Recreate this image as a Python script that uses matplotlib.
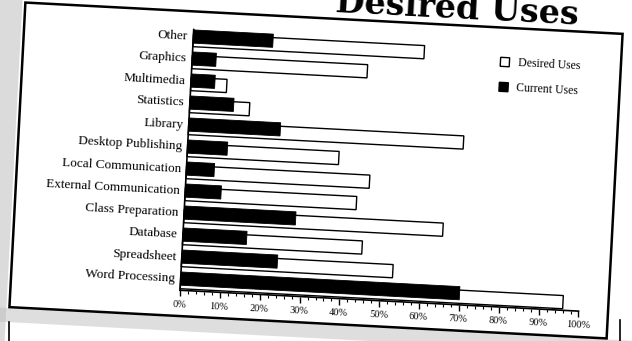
import matplotlib
matplotlib.use("Agg")
import numpy as np
import matplotlib.pyplot as plt
from matplotlib.transforms import Affine2D
from matplotlib.patches import Rectangle
from matplotlib.lines import Line2D
from matplotlib.artist import Artist

# ---- data -------------------------------------------------------------
categories = ["Word Processing", "Spreadsheet", "Database", "Class Preparation",
              "External Communication", "Local Communication", "Desktop Publishing",
              "Library", "Statistics", "Multimedia", "Graphics", "Other"]
current_uses = [70, 24, 16, 28, 9, 7, 10, 23, 11, 6, 6, 20]
desired_uses = [96, 53, 45, 65, 43, 46, 38, 69, 15, 9, 44, 58]
x_ticks = [0, 10, 20, 30, 40, 50, 60, 70, 80, 90, 100]
x_tick_labels = ["0%", "10%", "20%", "30%", "40%", "50%", "60%", "70%",
                 "80%", "90%", "100%"]
title_text = "Desired Uses"
legend_labels = ["Desired Uses", "Current Uses"]

# ---- figure -----------------------------------------------------------
W, H = 632, 341
TILT = -3.0  # the whole sheet leans slightly clockwise
fig = plt.figure(figsize=(W / 100, H / 100), dpi=100)
fig.patch.set_facecolor("white")

SERIF = ["Liberation Serif", "DejaVu Serif"]

# pixel space with y measured from the top, then tilted about the centre
px = Affine2D().scale(1, -1).translate(0, H)
rot = Affine2D().rotate_deg_around(W / 2, H / 2, TILT)
sheet = px + rot

# grey toner smear along the left margin and under the box
fig.add_artist(Rectangle((-60, -60), 74, 460, facecolor="#bfbfbf", edgecolor="none",
                         alpha=0.55, transform=sheet, zorder=0))
fig.add_artist(Rectangle((-60, 324), 760, 14, facecolor="#bfbfbf", edgecolor="none",
                         alpha=0.5, transform=sheet, zorder=0))

left, right, top, bottom = 186.5, 585.5, 36.1, 297.2
ax = fig.add_axes([left / W, (H - bottom) / H, (right - left) / W, (bottom - top) / H])
ax.patch.set_visible(False)

rows = np.arange(len(categories))
bh = 0.6
desired_bars = ax.barh(rows - 0.08, desired_uses, height=bh, color="white",
                       edgecolor="black", linewidth=1.0, zorder=2)
current_bars = ax.barh(rows + 0.08, current_uses, height=bh, color="black",
                       edgecolor="black", linewidth=0.6, zorder=3)

ax.set_xlim(0, 100)
ax.set_ylim(-0.45, 11.4)
ax.set_xticks(x_ticks, x_tick_labels)
ax.set_xticks(np.arange(0, 101, 2), minor=True)
ax.set_yticks(rows + 0.12, categories)

for s in ("top", "right"):
    ax.spines[s].set_visible(False)
for s in ("left", "bottom"):
    ax.spines[s].set_linewidth(1.2)

ax.tick_params(axis="y", length=0, pad=4, labelsize=9.5)
ax.tick_params(axis="x", which="major", direction="out", length=4, width=1.0,
               pad=3, labelsize=7.5)
ax.tick_params(axis="x", which="minor", direction="out", length=2, width=0.8)
for lab in ax.get_xticklabels() + ax.get_yticklabels():
    lab.set_fontfamily(SERIF)

# outer border of the chart
frame = Rectangle((17, 18), 598, 305, fill=False, edgecolor="black",
                  linewidth=1.8, transform=sheet)
fig.add_artist(frame)

# legend keys
keys = [("white", 47.8), ("black", 72.8)]
for (fc, y0), lab in zip(keys, legend_labels):
    fig.add_artist(Rectangle((494.5, y0), 9, 9, facecolor=fc, edgecolor="black",
                             linewidth=1.0, transform=sheet))
    fig.text(512, y0 + 4.5, lab, transform=sheet, fontsize=8.5, family=SERIF,
             ha="left", va="center", rotation=TILT, rotation_mode="anchor")

# title, running off the top edge
fig.text(327, 11, title_text, transform=sheet, fontsize=24, family="DejaVu Serif",
         fontweight="bold", ha="left", va="baseline", rotation=TILT,
         rotation_mode="anchor")

# edges of the next box further down the page
fig.add_artist(Line2D([9, 9], [322, 341], color="black", linewidth=1.2, transform=px))
fig.add_artist(Line2D([620, 620], [320, 341], color="black", linewidth=1.2, transform=px))

# ---- tilt the axes content together with the sheet -------------------
fig.canvas.draw()


def lean(artist):
    artist.set_transform(Artist.get_transform(artist) + rot)


for bar in list(desired_bars) + list(current_bars):
    lean(bar)
    bar.set_clip_on(False)
for s in ("left", "bottom"):
    lean(ax.spines[s])
for tick in (ax.xaxis.get_major_ticks() + ax.xaxis.get_minor_ticks()
             + ax.yaxis.get_major_ticks()):
    lean(tick.tick1line)
    lean(tick.label1)
    tick.label1.set_rotation(TILT)
    tick.label1.set_rotation_mode("anchor")

fig.savefig("out.png", dpi=100)
